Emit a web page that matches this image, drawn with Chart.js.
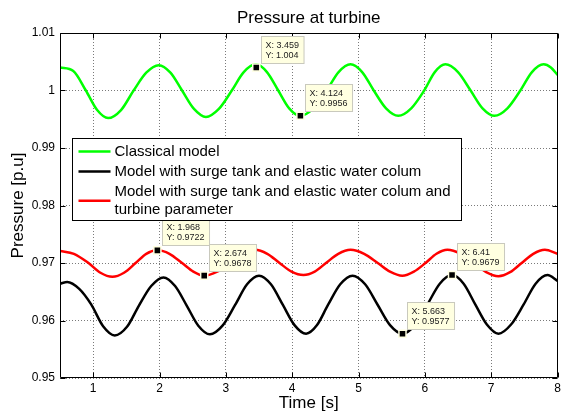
<!DOCTYPE html>
<html>
<head>
<meta charset="utf-8">
<script src="https://cdn.jsdelivr.net/npm/chart.js@4.4.0/dist/chart.umd.min.js"></script>
<style>
  html, body { margin: 0; padding: 0; background: #ffffff; }
  #wrap { width: 564px; height: 418px; }
</style>
</head>
<body>
<div id="wrap"><canvas id="c" width="564" height="418"></canvas></div>
<script>
// ---------- data ----------
const chartTitle = 'Pressure at turbine';
const xTitle = 'Time [s]';
const yTitle = 'Pressure [p.u]';

const xTicks = [1, 2, 3, 4, 5, 6, 7, 8];
const yTicks = [0.95, 0.96, 0.97, 0.98, 0.99, 1.00, 1.01];
const yTickLabels = ['0.95', '0.96', '0.97', '0.98', '0.99', '1', '1.01'];

const seriesNames = [
  ['Classical model'],
  ['Model with surge tank and elastic water colum'],
  ['Model with surge tank and elastic water colum and', 'turbine parameter']
];

const classicalT = [0.5, 0.70, 0.89, 1.06, 1.225, 1.42, 1.61, 1.80, 1.99, 2.165, 2.34, 2.52, 2.70, 2.895, 3.09, 3.27, 3.454, 3.62, 3.79, 3.955, 4.12, 4.32, 4.52, 4.70, 4.88, 5.055, 5.23, 5.415, 5.60, 5.795, 5.99, 6.15, 6.31, 6.50, 6.69, 6.87, 7.05, 7.245, 7.44, 7.615, 7.79, 7.90, 8.0];
const classicalP = [1.0040, 1.0034, 1.0000, 0.9966, 0.9952, 0.9966, 1.0000, 1.0031, 1.0044, 1.0031, 1.0000, 0.9968, 0.9954, 0.9968, 1.0000, 1.0032, 1.00455, 1.0032, 1.0000, 0.9969, 0.9956, 0.9969, 1.0000, 1.0032, 1.00455, 1.0032, 1.0000, 0.9969, 0.9956, 0.9969, 1.0000, 1.0032, 1.00455, 1.0032, 1.0000, 0.9969, 0.9956, 0.9969, 1.0000, 1.0032, 1.00455, 1.0040, 1.0027];

const surgeT = [0.5, 0.61, 0.79, 0.97, 1.15, 1.325, 1.51, 1.69, 1.875, 2.06, 2.235, 2.41, 2.585, 2.76, 2.95, 3.14, 3.32, 3.50, 3.68, 3.86, 4.035, 4.21, 4.375, 4.54, 4.725, 4.91, 5.10, 5.29, 5.475, 5.663, 5.85, 6.04, 6.225, 6.41, 6.585, 6.76, 6.935, 7.11, 7.30, 7.49, 7.67, 7.85, 8.0];
const surgeP = [0.9664, 0.9667, 0.9655, 0.9628, 0.9590, 0.9574, 0.9589, 0.9626, 0.9660, 0.9675, 0.9660, 0.9626, 0.9591, 0.9576, 0.9591, 0.9627, 0.9663, 0.9678, 0.9663, 0.9627, 0.9592, 0.9577, 0.9592, 0.9627, 0.9663, 0.9678, 0.9663, 0.9627, 0.9592, 0.9577, 0.9592, 0.9628, 0.9664, 0.9679, 0.9664, 0.9628, 0.9593, 0.9577, 0.9593, 0.9628, 0.9664, 0.9679, 0.9669];

const turbineT = [0.5, 0.71, 0.93, 1.11, 1.29, 1.465, 1.64, 1.80, 1.968, 2.15, 2.34, 2.51, 2.674, 2.87, 3.06, 3.25, 3.44, 3.625, 3.81, 3.99, 4.17, 4.34, 4.51, 4.695, 4.88, 5.085, 5.29, 5.475, 5.66, 5.835, 6.01, 6.175, 6.34, 6.54, 6.74, 6.925, 7.11, 7.285, 7.46, 7.635, 7.81, 8.0];
const turbineP = [0.9721, 0.9716, 0.9700, 0.9683, 0.9676, 0.9683, 0.9700, 0.9716, 0.9722, 0.9716, 0.9700, 0.9685, 0.9678, 0.9685, 0.9700, 0.9716, 0.9723, 0.9716, 0.9700, 0.9685, 0.9679, 0.9685, 0.9700, 0.9716, 0.9723, 0.9716, 0.9700, 0.9685, 0.9678, 0.9685, 0.9700, 0.9716, 0.9723, 0.9716, 0.9700, 0.9684, 0.9677, 0.9684, 0.9700, 0.9716, 0.9723, 0.9716];

const tipT = [3.459, 4.124, 1.968, 2.674, 5.663, 6.41];
const tipP = [1.004, 0.9956, 0.9722, 0.9678, 0.9577, 0.9679];

const seriesColors = ['#00ff00', '#000000', '#ff0000'];

// ---------- helpers ----------
const toXY = (ts, ps) => ts.map((t, i) => ({ x: t, y: ps[i] }));
const FONT = '"Liberation Sans", Arial, Helvetica, sans-serif';

const decor = {
  id: 'matlabDecor',
  afterDatasetsDraw(chart) {
    const { ctx, chartArea: a, scales: { x, y } } = chart;
    ctx.save();
    // frame
    ctx.strokeStyle = '#000';
    ctx.lineWidth = 1;
    ctx.setLineDash([]);
    const L = Math.round(a.left) + 0.5, R = Math.round(a.right) - 0.5;
    const T = Math.round(a.top) + 0.5, B = Math.round(a.bottom) - 0.5;
    ctx.beginPath();
    ctx.rect(L, T, R - L, B - T);
    // inward ticks
    const tl = 5;
    xTicks.forEach(v => {
      const px = Math.round(x.getPixelForValue(v)) + 0.5;
      ctx.moveTo(px, B); ctx.lineTo(px, B - tl);
      ctx.moveTo(px, T); ctx.lineTo(px, T + tl);
    });
    yTicks.forEach(v => {
      const py = Math.round(y.getPixelForValue(v)) + 0.5;
      ctx.moveTo(L, py); ctx.lineTo(L + tl, py);
      ctx.moveTo(R, py); ctx.lineTo(R - tl, py);
    });
    ctx.stroke();

    // data tips
    ctx.font = '9px ' + FONT;
    ctx.textBaseline = 'alphabetic';
    tipT.forEach((t, i) => {
      const mx = x.getPixelForValue(t), my = y.getPixelForValue(tipP[i]);
      const lines = ['X: ' + t, 'Y: ' + tipP[i]];
      const w = Math.max(...lines.map(s => ctx.measureText(s).width)) + 9;
      const h = 27;
      const bx = Math.round(mx + 5) + 0.5, by = Math.round(my - 5 - h) + 0.5;
      ctx.fillStyle = '#ffffe1';
      ctx.fillRect(bx, by, w, h);
      ctx.strokeStyle = '#c9c9bd';
      ctx.strokeRect(bx, by, w, h);
      ctx.fillStyle = '#222';
      ctx.fillText(lines[0], bx + 4, by + 11.5);
      ctx.fillText(lines[1], bx + 4, by + 21.5);
    });

    // legend
    const lx = Math.round(a.left + 12) + 0.5, ly = Math.round(a.top + 105) + 0.5;
    const lw = 389, lh = 82;
    ctx.fillStyle = '#fff';
    ctx.fillRect(lx, ly, lw, lh);
    ctx.strokeStyle = '#000';
    ctx.lineWidth = 1;
    ctx.strokeRect(lx, ly, lw, lh);
    ctx.font = '15px ' + FONT;
    ctx.textBaseline = 'middle';
    let rowY = ly + 13;
    seriesNames.forEach((lines, i) => {
      const n = lines.length;
      const lineGap = 18.5;
      const midY = rowY + (n - 1) * lineGap / 2;
      ctx.strokeStyle = seriesColors[i];
      ctx.lineWidth = 2.5;
      ctx.beginPath();
      ctx.moveTo(lx + 6, midY); ctx.lineTo(lx + 38, midY);
      ctx.stroke();
      ctx.fillStyle = '#000';
      lines.forEach((s, k) => ctx.fillText(s, lx + 42, rowY + k * lineGap));
      rowY += n * lineGap + 1.5;
    });

    // title
    ctx.font = '17px ' + FONT;
    ctx.textAlign = 'center';
    ctx.textBaseline = 'alphabetic';
    ctx.fillStyle = '#000';
    ctx.fillText(chartTitle, (a.left + a.right) / 2, 23);
    ctx.restore();
  }
};

Chart.defaults.font.family = FONT;
Chart.defaults.color = '#000';

const lineStyle = (i) => ({
  borderColor: seriesColors[i], borderWidth: 2.5,
  pointRadius: 0, cubicInterpolationMode: 'monotone', fill: false
});

new Chart(document.getElementById('c'), {
  type: 'line',
  data: {
    datasets: [
      {
        label: 'Data tips',
        data: toXY(tipT, tipP),
        showLine: false,
        pointStyle: 'rect',
        pointRadius: 5,
        pointBackgroundColor: '#000',
        pointBorderColor: '#ffffe1',
        pointBorderWidth: 1.5,
        order: -1
      },
      Object.assign({ label: seriesNames[0].join(' '), data: toXY(classicalT, classicalP) }, lineStyle(0)),
      Object.assign({ label: seriesNames[1].join(' '), data: toXY(surgeT, surgeP) }, lineStyle(1)),
      Object.assign({ label: seriesNames[2].join(' '), data: toXY(turbineT, turbineP) }, lineStyle(2))
    ]
  },
  options: {
    responsive: false,
    animation: false,
    events: [],
    layout: { padding: { top: 33, right: 3, left: 0, bottom: 0 } },
    plugins: {
      legend: { display: false },
      tooltip: { enabled: false },
      title: { display: false }
    },
    scales: {
      x: {
        type: 'linear',
        min: 0.5, max: 8,
        afterBuildTicks: s => { s.ticks = xTicks.map(v => ({ value: v })); },
        afterFit: s => { s.height = 40; },
        ticks: { font: { size: 12 }, padding: 3, maxRotation: 0, autoSkip: false,
                 callback: v => String(v) },
        grid: { color: '#7a7a7a', lineWidth: 1, drawTicks: false },
        border: { display: false, dash: [1, 2] },
        title: { display: true, text: xTitle, font: { size: 17 }, padding: { top: 0, bottom: 4 } }
      },
      y: {
        type: 'linear',
        min: 0.95, max: 1.01,
        afterBuildTicks: s => { s.ticks = yTicks.map(v => ({ value: v })); },
        afterFit: s => { s.width = 60; },
        ticks: { font: { size: 12 }, padding: 5, autoSkip: false,
                 callback: v => yTickLabels[yTicks.findIndex(t => Math.abs(t - v) < 1e-9)] },
        grid: { color: '#7a7a7a', lineWidth: 1, drawTicks: false },
        border: { display: false, dash: [1, 2] },
        title: { display: true, text: yTitle, font: { size: 17 }, padding: { top: 8, bottom: 0 } }
      }
    }
  },
  plugins: [decor]
});
</script>
</body>
</html>
